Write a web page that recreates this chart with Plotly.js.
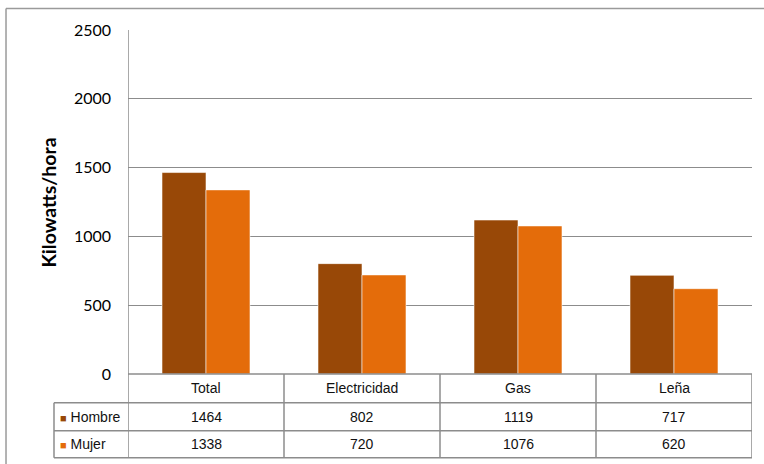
<!DOCTYPE html>
<html>
<head>
<meta charset="utf-8">
<script src="https://cdn.plot.ly/plotly-3.0.1.min.js"></script>
<style>html,body{margin:0;padding:0;background:#fff;}#chart{width:764px;height:464px;}</style>
</head>
<body>
<div id="chart"></div>
<script>
const categories = ['Total', 'Electricidad', 'Gas', 'Leña'];
const seriesNames = ['Hombre', 'Mujer'];
const hombre = [1464, 802, 1119, 717];
const mujer = [1338, 720, 1076, 620];
const yTicks = [0, 500, 1000, 1500, 2000, 2500];
const yTitle = 'Kilowatts/hora';

const colors = ['#984807', '#E46C0A'];
const seriesValues = [hombre, mujer];
const lineColor = '#8c8c8c';

const traces = seriesNames.map((name, s) => ({
  type: 'bar',
  name: name,
  x: categories.map((c, i) => i),
  y: seriesValues[s],
  marker: {color: colors[s], line: {color: 'rgba(255,255,255,0.55)', width: 1}},
  hoverinfo: 'skip'
}));

// table geometry (paper units)
const rowBottoms = [-0.0834, -0.1648, -0.2433];
const rowCenters = [-0.0419, -0.1241, -0.2041];
const legendLeft = -0.1186;

const shapes = [];
const annotations = [];

// vertical lines at category boundaries
for (let i = 0; i <= categories.length; i++) {
  shapes.push({type: 'line', xref: 'x', yref: 'paper', x0: i - 0.5, x1: i - 0.5,
    y0: i === 0 ? 1 : 0, y1: rowBottoms[2], line: {color: lineColor, width: 1.5}});
}
// horizontal lines
shapes.push({type: 'line', xref: 'paper', yref: 'paper', x0: 0, x1: 1, y0: 0, y1: 0,
  line: {color: lineColor, width: 1.5}});
rowBottoms.forEach(yb => {
  shapes.push({type: 'line', xref: 'paper', yref: 'paper', x0: legendLeft, x1: 1, y0: yb, y1: yb,
    line: {color: lineColor, width: 1.5}});
});
// legend column left line
shapes.push({type: 'line', xref: 'paper', yref: 'paper', x0: legendLeft, x1: legendLeft,
  y0: rowBottoms[0], y1: rowBottoms[2], line: {color: lineColor, width: 1.5}});
// outer chart border (top and left)
shapes.push({type: 'line', xref: 'paper', yref: 'paper', x0: -0.1955, x1: 1.03, y0: 1.0625, y1: 1.0625,
  line: {color: '#9a9a9a', width: 1.5}});
shapes.push({type: 'line', xref: 'paper', yref: 'paper', x0: -0.1955, x1: -0.1955, y0: 1.0625, y1: -0.3,
  line: {color: '#9a9a9a', width: 1.5}});

const tFont = {family: 'Liberation Sans, Arial, sans-serif', size: 14, color: '#111'};

// header row: categories
categories.forEach((c, i) => {
  annotations.push({xref: 'x', yref: 'paper', x: i, y: rowCenters[0], text: c, showarrow: false,
    xanchor: 'center', yanchor: 'middle', font: tFont});
});
// data rows
seriesNames.forEach((name, s) => {
  seriesValues[s].forEach((v, i) => {
    annotations.push({xref: 'x', yref: 'paper', x: i, y: rowCenters[s + 1], text: String(v), showarrow: false,
      xanchor: 'center', yanchor: 'middle', font: tFont});
  });
  annotations.push({xref: 'paper', yref: 'paper', x: legendLeft + 0.006, y: rowCenters[s + 1],
    text: '<span style="color:' + colors[s] + ';font-size:11px">■</span> ' + name,
    showarrow: false, xanchor: 'left', yanchor: 'middle', font: tFont});
});
// y title
annotations.push({xref: 'paper', yref: 'paper', x: -0.1274, y: 0.497, text: '<b>' + yTitle + '</b>',
  textangle: -90, showarrow: false, xanchor: 'center', yanchor: 'middle',
  font: {family: 'Lato, Carlito, Calibri, sans-serif', size: 19.5, color: '#000'}});

const layout = {
  width: 764, height: 464,
  margin: {l: 128, r: 12, t: 30, b: 90},
  paper_bgcolor: '#fff', plot_bgcolor: '#fff',
  showlegend: false,
  barmode: 'group', bargap: 0.436, bargroupgap: 0,
  xaxis: {range: [-0.5, categories.length - 0.5], showticklabels: false, showgrid: false,
    zeroline: false, showline: false, ticks: '', fixedrange: true},
  yaxis: {range: [0, 2500], tickvals: yTicks, ticktext: yTicks.map(String), showgrid: true,
    gridcolor: '#8c8c8c', gridwidth: 1.3, zeroline: false, showline: false, ticks: '',
    ticklabelstandoff: 16,
    tickfont: {family: 'Lato, Carlito, Calibri, sans-serif', size: 16, color: '#000'}},
  shapes: shapes,
  annotations: annotations
};

Plotly.newPlot('chart', traces, layout, {displayModeBar: false, staticPlot: true});
</script>
</body>
</html>
